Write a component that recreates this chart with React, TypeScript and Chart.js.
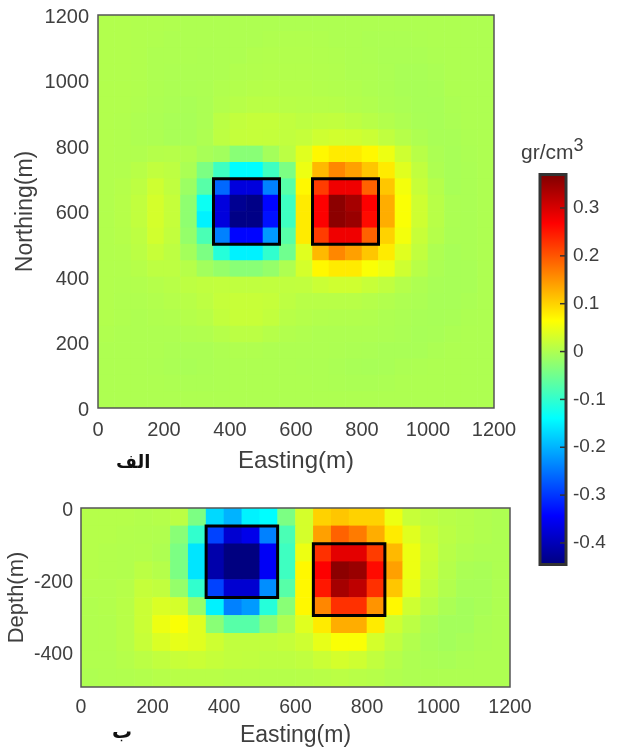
import React, { useEffect, useRef } from "react";
import { Chart, registerables } from "chart.js";

Chart.register(...registerables);

const CELL_METERS = 50;
const COLOR_MIN = -0.445;
const COLOR_MAX = 0.37;

const xTicks = [0, 200, 400, 600, 800, 1000, 1200];
const mapYTicks = [0, 200, 400, 600, 800, 1000, 1200];
const sectionYTicks = [0, -200, -400];
const colorbarTicks = [-0.4, -0.3, -0.2, -0.1, 0, 0.1, 0.2, 0.3];

// Density in hundredths of gr/cm3, row by row from the top of the plot; columns run west to east.
const mapRows = [
  [0.3, 0.3, 0.2, 0.2, 0.1, 0, 0, 0, 0, 0, 0, 0, 0, 0, 0, 0, 0, 0, 0, 0, 0, 0, 0, 0],
  [0.3, 0.3, 0.2, 0.1, 0, 0, 0, 0, 0, 0, 0.1, 0.2, 0.2, 0.1, 0, 0, -0.2, -0.2, -0.2, -0.1, 0, 0, 0, 0],
  [0.3, 0.3, 0.2, 0, 0, 0, -0.1, 0, 0, 0.2, 0.3, 0.3, 0.3, 0.2, 0.1, 0, -0.1, -0.3, -0.3, -0.3, -0.1, 0, 0, 0],
  [0.3, 0.3, 0.2, 0, -0.1, -0.1, -0.1, 0, 0.2, 0.3, 0.4, 0.4, 0.4, 0.3, 0.2, 0, 0, -0.2, -0.4, -0.4, -0.3, 0, 0, 0],
  [0.3, 0.3, 0.2, 0, -0.2, -0.2, -0.1, 0.2, 0.4, 0.5, 0.6, 0.5, 0.5, 0.4, 0.3, 0.2, 0, -0.2, -0.4, -0.5, -0.4, 0, 0, 0],
  [0.3, 0.3, 0.1, -0.1, -0.3, -0.4, -0.2, 0.4, 0.7, 0.9, 0.9, 0.8, 0.7, 0.7, 0.6, 0.4, 0.2, -0.1, -0.3, -0.5, -0.5, -0.2, 0, 0],
  [0.3, 0.2, 0, -0.2, -0.4, -0.5, -0.2, 1.0, 1.6, 1.8, 1.8, 1.5, 1.2, 1.4, 1.5, 1.2, 0.8, 0.4, 0, -0.4, -0.5, -0.3, 0, 0],
  [0.3, 0.2, 0, -0.1, -0.4, -0.4, 0, 1.2, 1.7, 1.8, 1.7, 1.5, 1.8, 2.5, 2.8, 2.6, 2.2, 1.4, 0.6, 0, -0.4, -0.4, -0.1, 0],
  [0.3, 0.2, 0.2, 0.5, 0.6, 0.3, -0.5, -1.0, -3, -3, -0.8, 1, 4, 7, 8, 8, 7, 5, 2.5, 0.8, -0.2, -0.5, -0.2, 0],
  [0.3, 0.3, 0.8, 1.5, 1.2, -0.3, -4, -9, -14, -14, -9, -4, 5, 12, 16, 14, 11, 8, 4, 1.5, 0, -0.5, -0.3, 0],
  [0.3, 0.5, 1.2, 2.5, 1.4, -1.5, -7, -26, -37, -37, -24, -7, 7, 22, 28, 28, 19, 11, 5.5, 2, 0.5, -0.5, -0.3, 0],
  [0.3, 0.6, 1.5, 3, 1.8, -2.5, -13, -37, -43, -44, -34, -9, 8, 27, 36, 34, 27, 13, 6, 2.5, 0.8, -0.2, -0.3, 0],
  [0.3, 0.6, 1.5, 3, 1.8, -2.5, -15, -37, -44, -44, -33, -9, 8, 27, 36, 35, 26, 13, 6, 2.5, 0.8, -0.2, -0.3, 0],
  [0.3, 0.5, 1.2, 2.8, 1.6, -2, -8, -24, -34, -34, -22, -7, 8, 22, 28, 28, 19, 10, 5.5, 2, 0.5, -0.3, -0.3, 0],
  [0.3, 0.4, 1, 2, 1.2, -0.8, -4, -11, -15, -15, -10, -5, 4, 12, 16, 14, 11, 8, 4, 1.5, 0, -0.5, -0.3, 0],
  [0.3, 0.3, 0.6, 1.2, 1.2, 0.6, -1, -2, -3, -3, -2, 0, 3, 7, 8, 8, 6, 5, 2.5, 0.8, -0.2, -0.5, -0.4, 0],
  [0.3, 0.2, 0.3, 0.5, 0.8, 1.2, 1.4, 1.6, 1.4, 1.4, 1.5, 1.4, 1.5, 2.2, 2.6, 2.6, 2, 1.4, 0.5, 0, -0.4, -0.5, -0.4, 0],
  [0.3, 0.1, 0.1, 0.3, 0.5, 0.8, 1.2, 1.8, 2, 2, 1.8, 1.2, 0.8, 0.8, 0.8, 0.8, 0.5, 0.3, 0, -0.2, -0.5, -0.5, -0.3, 0],
  [0.3, 0.1, 0, 0.1, 0.2, 0.5, 0.8, 1.6, 2, 2, 1.6, 0.8, 0.5, 0.4, 0.3, 0.3, 0.2, 0, -0.2, -0.4, -0.5, -0.4, -0.1, 0],
  [0.1, 0, 0, 0, 0, 0.1, 0.2, 0.6, 1, 1, 0.6, 0.3, 0.1, 0, 0, 0, 0, -0.1, -0.3, -0.5, -0.4, -0.2, 0, 0],
  [0, 0, 0, 0, -0.2, -0.3, -0.3, 0, 0.1, 0.1, 0, 0, 0, 0, -0.1, -0.2, -0.3, -0.4, -0.4, -0.4, -0.2, 0, 0, 0],
  [0, 0, 0, -0.1, -0.3, -0.4, -0.3, -0.1, 0, 0, 0, 0, -0.1, -0.1, -0.3, -0.4, -0.5, -0.4, -0.2, -0.1, 0, 0, 0, 0],
  [0, 0, 0, 0, -0.1, -0.2, -0.2, -0.1, 0, 0, 0, 0, 0, -0.1, -0.2, -0.3, -0.3, -0.2, 0, 0, 0, 0, 0, 0],
  [0, 0, 0, 0, 0, 0, 0, 0, 0, 0, 0, 0, 0, 0, 0, 0, 0, 0, 0, 0, 0, 0, 0, 0],
];

const sectionRows = [
  [0.5, 0.5, 0.5, 0.4, 0.5, 1, -4, -17, -20, -15, -14, -4, 3, 10, 11, 10, 10, 5, 2, 1.2, 0.8, 0.5, 0.2, 0],
  [0.5, 0.5, 0.4, 0.3, 0.2, -3, -10, -29, -38, -36, -24, -8, 3, 14, 19, 17, 13, 8, 4, 1.8, 1, 0.5, 0.2, 0],
  [0.5, 0.4, 0.3, 0.4, 0, -4, -16, -41, -45, -45, -35, -9, 5, 23, 29, 29, 22, 12, 5, 2.2, 0.8, 0.2, 0, 0],
  [0.5, 0.4, 0.3, 1, 0.5, -4, -16, -41, -45, -45, -35, -9, 7, 27, 36, 35, 26, 14, 5, 2, 0.5, -0.3, -0.4, 0],
  [0.4, 0.4, 0.6, 1.8, 1.5, -2, -10, -29, -38, -38, -23, -7, 7, 25, 34, 32, 23, 11, 4.5, 1.5, 0.3, -0.5, -0.5, 0],
  [0.2, 0.4, 0.8, 2.2, 3.5, 3, -2, -15, -24, -22, -11, -3, 7, 16, 23, 23, 15, 7, 2.5, 0.8, -0.3, -0.8, -0.5, 0],
  [0.2, 0.3, 0.8, 2.2, 5, 6, 4, -3, -7, -7, -3, 0, 4, 8, 13, 13, 8, 2.5, 1, -0.3, -0.8, -0.8, -0.3, 0],
  [0.2, 0.3, 0.8, 2, 3.5, 4.5, 4, 2.5, 1.5, 1.5, 1.5, 1.8, 2.5, 4.5, 6, 6, 3, 1.5, 0.3, -0.5, -0.8, -0.5, -0.2, 0],
  [0.2, 0.2, 0.5, 1, 1.5, 2, 2.2, 1.8, 1.5, 1.4, 1.2, 1.2, 1.4, 2.2, 3, 2.5, 1.5, 0.6, 0, -0.3, -0.4, -0.2, 0, 0],
  [0, 0.1, 0.2, 0.4, 0.6, 0.8, 0.8, 0.8, 0.6, 0.6, 0.5, 0.5, 0.6, 0.8, 1, 0.8, 0.6, 0.2, 0, 0, 0, 0, 0, 0],
];

const mapBlockWest = [[350, 500], [550, 500], [550, 700], [350, 700], [350, 500]];
const mapBlockEast = [[650, 500], [850, 500], [850, 700], [650, 700], [650, 500]];
const sectionBlockWest = [[350, -250], [550, -250], [550, -50], [350, -50], [350, -250]];
const sectionBlockEast = [[650, -300], [850, -300], [850, -100], [650, -100], [650, -300]];

const jetStops: [number, string][] = [
  [0, "rgb(0,0,128)"],
  [0.125, "rgb(0,0,255)"],
  [0.375, "rgb(0,255,255)"],
  [0.625, "rgb(255,255,0)"],
  [0.875, "rgb(255,0,0)"],
  [1, "rgb(128,0,0)"],
];

const FONT = "'Liberation Sans', Arial, sans-serif";
const TEXT = "#3f3f3f";

function jet(value: number) {
  const t = Math.min(1, Math.max(0, (value - COLOR_MIN) / (COLOR_MAX - COLOR_MIN)));
  const band = (c: number) => Math.round(255 * Math.min(1, Math.max(0, 1.5 - Math.abs(4 * t - c))));
  return `rgb(${band(3)},${band(2)},${band(1)})`;
}

function cells(rows: number[][], topY: number) {
  return rows.flatMap((row, r) =>
    row.map((v, c) => ({
      x: c * CELL_METERS + CELL_METERS / 2,
      y: topY - r * CELL_METERS - CELL_METERS / 2,
      v: v / 100,
    })),
  );
}

const toPoints = (path: number[][]) => path.map(([x, y]) => ({ x, y }));

const framePlugin = {
  id: "frame",
  afterDatasetsDraw(chart: any) {
    const { ctx, chartArea: a } = chart;
    ctx.save();
    ctx.strokeStyle = "#555555";
    ctx.lineWidth = 1.5;
    ctx.strokeRect(a.left, a.top, a.right - a.left, a.bottom - a.top);
    ctx.restore();
  },
};

const colorbarPlugin = {
  id: "colorbarFrame",
  afterDatasetsDraw(chart: any) {
    const { ctx, chartArea: a, scales } = chart;
    ctx.save();
    ctx.strokeStyle = "#333333";
    ctx.lineWidth = 3;
    ctx.strokeRect(a.left, a.top, a.right - a.left, a.bottom - a.top);
    ctx.lineWidth = 1.5;
    colorbarTicks.forEach((t) => {
      const y = scales.y.getPixelForValue(t);
      ctx.beginPath();
      ctx.moveTo(a.right, y);
      ctx.lineTo(a.right - 6, y);
      ctx.stroke();
    });
    ctx.restore();
  },
};

function heatChart(
  canvas: HTMLCanvasElement,
  cfg: {
    rows: number[][];
    topY: number;
    blocks: number[][][];
    yMin: number;
    yMax: number;
    yTicks: number[];
    yTitle: string;
    padding: any;
    yWidth: number;
    xHeight: number;
    tickSize: number;
    xTitleSize: number;
    yTitleSize: number;
    xPad: number;
    yPad: number;
    yLabelOffset: number;
    yTitlePad: number;
  },
) {
  const cellRadius = (ctx: any) => {
    const { x, y } = ctx.chart.scales;
    const w = Math.abs(x.getPixelForValue(CELL_METERS) - x.getPixelForValue(0));
    const h = Math.abs(y.getPixelForValue(CELL_METERS) - y.getPixelForValue(0));
    return (Math.max(w, h) + 0.6) * Math.SQRT1_2;
  };
  return new Chart(canvas, {
    type: "scatter",
    data: {
      datasets: [
        ...cfg.blocks.map((b) => ({
          data: toPoints(b),
          showLine: true,
          order: 0,
          borderColor: "#000000",
          borderWidth: 3,
          borderCapStyle: "square",
          pointRadius: 0,
          clip: 0,
        })),
        {
          data: cells(cfg.rows, cfg.topY),
          order: 1,
          pointStyle: "rect",
          pointRadius: cellRadius,
          pointBorderWidth: 0,
          pointHoverRadius: cellRadius,
          pointBackgroundColor: (ctx: any) => jet(ctx.raw?.v ?? 0),
          clip: 0,
        },
      ] as any,
    },
    options: {
      animation: false,
      responsive: false,
      devicePixelRatio: 1,
      events: [],
      layout: { padding: cfg.padding },
      plugins: { legend: { display: false }, tooltip: { enabled: false } },
      scales: {
        x: {
          type: "linear",
          min: 0,
          max: 1200,
          grid: { display: false, drawTicks: false },
          border: { display: false },
          afterBuildTicks: (s: any) => {
            s.ticks = xTicks.map((value) => ({ value }));
          },
          afterFit: (s: any) => {
            s.height = cfg.xHeight;
            s.paddingLeft = 0;
            s.paddingRight = 0;
          },
          ticks: {
            padding: cfg.xPad,
            maxRotation: 0,
            autoSkip: false,
            color: TEXT,
            font: { family: FONT, size: cfg.tickSize },
            callback: (v: any) => String(v),
          },
          title: {
            display: true,
            text: "Easting(m)",
            color: TEXT,
            padding: { top: 0, bottom: 0 },
            font: { family: FONT, size: cfg.xTitleSize },
          },
        },
        y: {
          type: "linear",
          min: cfg.yMin,
          max: cfg.yMax,
          grid: { display: false, drawTicks: false },
          border: { display: false },
          afterBuildTicks: (s: any) => {
            s.ticks = cfg.yTicks.map((value) => ({ value }));
          },
          afterFit: (s: any) => {
            s.width = cfg.yWidth;
            s.paddingTop = 0;
            s.paddingBottom = 0;
          },
          ticks: {
            padding: cfg.yPad,
            labelOffset: cfg.yLabelOffset,
            autoSkip: false,
            color: TEXT,
            font: { family: FONT, size: cfg.tickSize },
            callback: (v: any) => String(v),
          },
          title: {
            display: true,
            text: cfg.yTitle,
            color: TEXT,
            padding: { top: cfg.yTitlePad, bottom: 0 },
            font: { family: FONT, size: cfg.yTitleSize },
          },
        },
      },
    },
    plugins: [framePlugin],
  } as any);
}

function colorbarChart(canvas: HTMLCanvasElement) {
  return new Chart(canvas, {
    type: "bar",
    data: {
      labels: ["gr/cm3"],
      datasets: [
        {
          data: [[COLOR_MIN, COLOR_MAX]],
          barPercentage: 1,
          categoryPercentage: 1,
          backgroundColor: (ctx: any) => {
            const a = ctx.chart.chartArea;
            if (!a) return "#000";
            const g = ctx.chart.ctx.createLinearGradient(0, a.bottom, 0, a.top);
            jetStops.forEach(([t, c]) => g.addColorStop(t, c));
            return g;
          },
        },
      ] as any,
    },
    options: {
      animation: false,
      responsive: false,
      devicePixelRatio: 1,
      events: [],
      layout: { padding: { left: 20, top: 14.5, right: 0, bottom: 15.5 } },
      plugins: { legend: { display: false }, tooltip: { enabled: false } },
      scales: {
        x: { display: false },
        y: {
          position: "right",
          min: COLOR_MIN,
          max: COLOR_MAX,
          grid: { display: false, drawTicks: false },
          border: { display: false },
          afterBuildTicks: (s: any) => {
            s.ticks = colorbarTicks.map((value) => ({ value }));
          },
          afterFit: (s: any) => {
            s.width = 53;
            s.paddingTop = 0;
            s.paddingBottom = 0;
          },
          ticks: {
            padding: 7,
            autoSkip: false,
            color: TEXT,
            font: { family: FONT, size: 19 },
            callback: (v: any) => String(Math.round(Number(v) * 10) / 10),
          },
        },
      },
    },
    plugins: [colorbarPlugin],
  } as any);
}

export default function App() {
  const mapRef = useRef<HTMLCanvasElement>(null);
  const sectionRef = useRef<HTMLCanvasElement>(null);
  const barRef = useRef<HTMLCanvasElement>(null);

  useEffect(() => {
    const charts = [
      heatChart(mapRef.current!, {
        rows: mapRows,
        topY: 1200,
        blocks: [mapBlockWest, mapBlockEast],
        yMin: 0,
        yMax: 1200,
        yTicks: mapYTicks,
        yTitle: "Northing(m)",
        padding: { left: 0, top: 15, right: 36, bottom: 0 },
        yWidth: 98,
        xHeight: 68,
        tickSize: 20,
        xTitleSize: 24,
        yTitleSize: 23,
        xPad: 10,
        yPad: 9,
        yLabelOffset: 2,
        yTitlePad: 12,
      }),
      heatChart(sectionRef.current!, {
        rows: sectionRows,
        topY: 0,
        blocks: [sectionBlockWest, sectionBlockEast],
        yMin: -500,
        yMax: 0,
        yTicks: sectionYTicks,
        yTitle: "Depth(m)",
        padding: { left: 0, top: 18, right: 35, bottom: 0 },
        yWidth: 81,
        xHeight: 62,
        tickSize: 19.5,
        xTitleSize: 23,
        yTitleSize: 22,
        xPad: 9,
        yPad: 8,
        yLabelOffset: 3,
        yTitlePad: 4,
      }),
      colorbarChart(barRef.current!),
    ];
    return () => charts.forEach((c) => c.destroy());
  }, []);

  const abs = (left: number, top: number): React.CSSProperties => ({ position: "absolute", left, top });

  return (
    <div style={{ position: "absolute", left: 0, top: 0, width: 619, height: 749, background: "#fff", overflow: "hidden" }}>
      <canvas ref={mapRef} width={530} height={476} style={{ ...abs(0, 0), display: "block" }} />
      <canvas ref={sectionRef} width={545} height={259} style={{ ...abs(0, 490), display: "block" }} />
      <canvas ref={barRef} width={99} height={420} style={{ ...abs(520, 160), display: "block" }} />
      <div style={{ ...abs(521, 140), fontFamily: FONT, fontSize: 21, color: TEXT, whiteSpace: "nowrap", lineHeight: "24px" }}>
        gr/cm<sup style={{ fontSize: 18, lineHeight: 0 }}>3</sup>
      </div>
      <div dir="rtl" style={{ ...abs(116, 449), fontFamily: "'DejaVu Sans', sans-serif", fontWeight: 700, fontSize: 18, color: "#111", lineHeight: "26px" }}>
        الف
      </div>
      <div dir="rtl" style={{ ...abs(112, 718), fontFamily: "'DejaVu Sans', sans-serif", fontWeight: 700, fontSize: 20, color: "#111", lineHeight: "26px" }}>
        ب
      </div>
    </div>
  );
}
